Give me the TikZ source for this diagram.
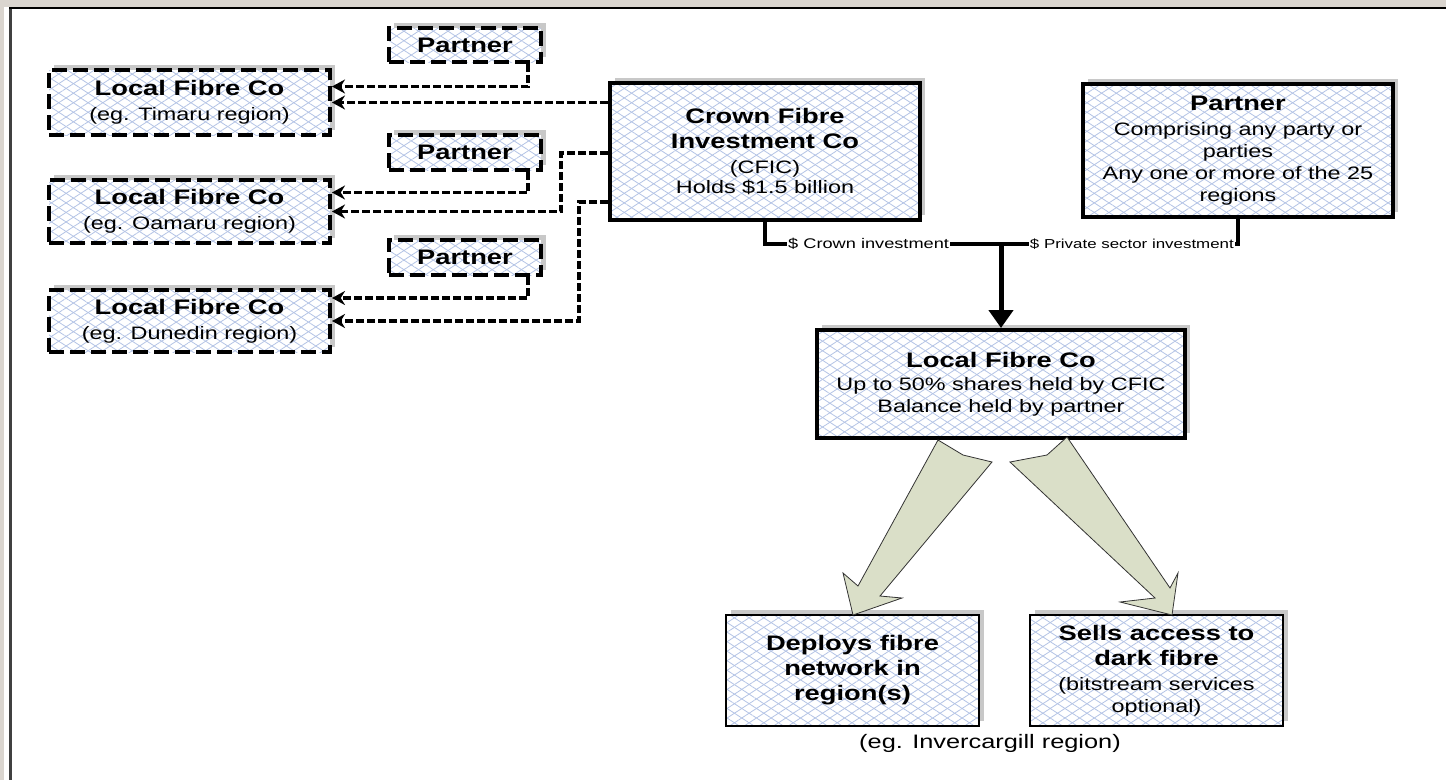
\documentclass[tikz,border=0pt]{standalone}
\usepackage{fontspec}
\setmainfont{Liberation Sans}[FakeStretch=1.3]
\usepackage{tikz}
\usetikzlibrary{arrows.meta,patterns.meta,shadows,positioning}
\definecolor{framegrey}{RGB}{218, 213, 207}
\definecolor{hatch}{RGB}{180, 196, 230}
\definecolor{shadowgrey}{RGB}{200, 200, 200}
\definecolor{fanfill}{RGB}{218, 223, 200}
\newcommand\headfont{\fontsize{21}{25}\selectfont\bfseries}

\begin{document}
\begin{tikzpicture}[x=1pt, y=-1pt,
    shadowed/.style={general shadow={fill=shadowgrey, shadow xshift=5pt, shadow yshift=5pt}},
    hatchfill/.style={preaction={fill=white},
        preaction={pattern={Lines[angle=33,distance=8pt,line width=0.8pt]}, pattern color=hatch},
        preaction={pattern={Lines[angle=-33,distance=8pt,line width=0.8pt]}, pattern color=hatch}},
    firmbox/.style={shadowed, hatchfill, draw=black, line width=4pt, align=center,
        font=\fontsize{18}{22}\selectfont},
    dashbox/.style={firmbox, dash pattern=on 15pt off 6pt},
    thinbox/.style={firmbox, line width=2pt},
    link/.style={line width=3.2pt, dash pattern=on 8pt off 3pt, -{Stealth[width=14pt,length=13pt]}},
    flow/.style={line width=3.5pt},
    flowtext/.style={fill=white, inner sep=1pt},
    fanarrow/.style={fill=fanfill, draw=black!80, line width=0.8pt}]

    % Window frame
    \useasboundingbox (0,0) rectangle (1446,780);
    \fill[white] (0,0) rectangle (1446,780);
    \fill[framegrey] (0,0) rectangle (1446,7);
    \fill[framegrey] (0,0) rectangle (4,780);
    \draw[black!75, line width=3pt] (10.5,9) -- (10.5,780);
    \draw[black, line width=2pt] (9,8) -- (1446,8);

    % Regional companies and their partners
    \node[dashbox, minimum width=152, minimum height=34] (p1) at (465,45) {{\headfont Partner}};
    \node[dashbox, minimum width=152, minimum height=35] (p2) at (465,152.5) {{\headfont Partner}};
    \node[dashbox, minimum width=152, minimum height=35] (p3) at (465,257.5) {{\headfont Partner}};
    \node[dashbox, minimum width=281, minimum height=65] (lfc1) at (189.5,102.5)
        {{\headfont Local Fibre Co}\\[3pt](eg. Timaru region)};
    \node[dashbox, minimum width=281, minimum height=63] (lfc2) at (189.5,211.5)
        {{\headfont Local Fibre Co}\\[3pt](eg. Oamaru region)};
    \node[dashbox, minimum width=281, minimum height=62] (lfc3) at (189.5,321)
        {{\headfont Local Fibre Co}\\[3pt](eg. Dunedin region)};

    % Investors
    \node[firmbox, minimum width=310, minimum height=137] (crown) at (765,151.5)
        {{\headfont Crown Fibre}\\[3pt]{\headfont Investment Co}\\[3pt](CFIC)\\[-2pt]Holds \$1.5 billion};
    \node[firmbox, minimum width=310, minimum height=133] (partner) at (1238,150.5)
        {{\headfont Partner}\\[3pt]Comprising any party or\\parties\\Any one or more of the 25\\regions};

    % Joint company and its activities
    \node[firmbox, minimum width=368, minimum height=108] (lfc) at (1001,384)
        {{\headfont Local Fibre Co}\\[1pt]Up to 50\% shares held by CFIC\\Balance held by partner};
    \node[thinbox, minimum width=253, minimum height=111] (deploy) at (852.5,670.5)
        {{\headfont Deploys fibre}\\[3pt]{\headfont network in}\\[3pt]{\headfont region(s)}};
    \node[thinbox, minimum width=253, minimum height=111] (sells) at (1156.5,670.5)
        {{\headfont Sells access to}\\[3pt]{\headfont dark fibre}\\[3pt](bitstream services\\optional)};
    \node[font=\fontsize{19.5}{22}\selectfont] (region) at (990,743) {(eg. Invercargill region)};

    % Dashed links to the regions
    \draw[link] ([xshift=-15pt]p1.south east) |- ([yshift=16pt]lfc1.east);
    \draw[link] (crown.west |- lfc1.east) -- (lfc1.east);
    \draw[link] ([xshift=-15pt]p2.south east) |- ([yshift=19pt]lfc2.east);
    \draw[link] ([yshift=-1.5pt]crown.west) -- ++(-47,0) |- (lfc2.east);
    \draw[link] ([xshift=-15pt]p3.south east) |- ([yshift=23pt]lfc3.east);
    \draw[link] ([yshift=-50.5pt]crown.west) -- ++(-29,0) |- (lfc3.east);

    % Investment lines
    \coordinate (join) at (lfc.north |- 0,244);
    \draw[flow] (crown.south) |- (join) -| (partner.south);
    \node[flowtext, anchor=west, font=\fontsize{14}{16}\selectfont] (crowninv) at (787,244) {\$ Crown investment};
    \node[flowtext, anchor=east, font=\fontsize{13}{15}\selectfont] (privinv) at (1235,244) {\$ Private sector investment};
    \draw[flow, line width=5pt, -{Triangle[width=24pt,length=18pt]}] (join) -- (lfc.north);

    % Broad arrows
    \draw[fanarrow] (938,440) -- (858,586) -- (843,573) -- (853,615) -- (902,598)
        -- (880,596) -- (992,462) -- (963,455) -- cycle;
    \draw[fanarrow] (1067,437) -- (1170,588) -- (1178,573) -- (1172,615) -- (1120,602)
        -- (1155,598) -- (1010,462) -- (1047,455) -- cycle;
\end{tikzpicture}
\end{document}
